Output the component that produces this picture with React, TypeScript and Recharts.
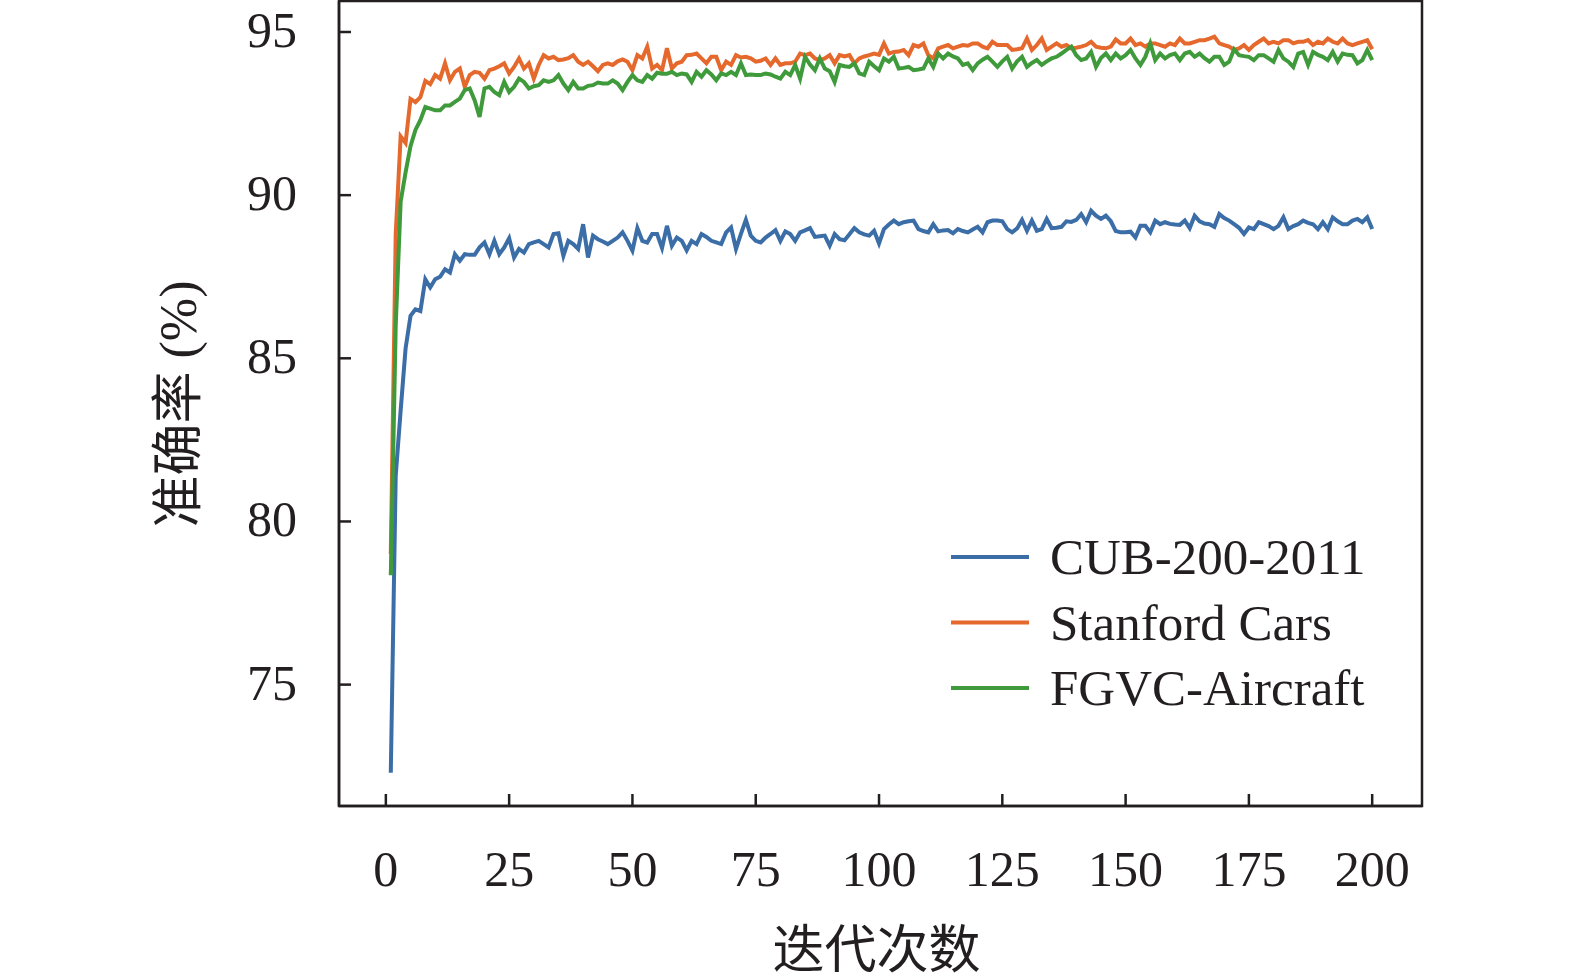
import { LineChart, Line, XAxis, YAxis, Legend, ReferenceArea } from "recharts";

const EPOCHS = Array.from({ length: 200 }, (_, i) => i + 1);

const CUB = [
  72.3, 81.4, 83.4, 85.3, 86.3, 86.5, 86.45, 87.42, 87.17, 87.42,
  87.5, 87.73, 87.63, 88.19, 87.99, 88.19, 88.17, 88.17, 88.4, 88.55,
  88.19, 88.6, 88.19, 88.4, 88.68, 88.09, 88.35, 88.24, 88.5, 88.55,
  88.6, 88.5, 88.4, 88.81, 88.83, 88.14, 88.6, 88.5, 88.35, 89.11,
  88.09, 88.76, 88.65, 88.58, 88.5, 88.6, 88.7, 88.86, 88.6, 88.3,
  88.99, 88.6, 88.55, 88.81, 88.81, 88.38, 89.06, 88.45, 88.7, 88.6,
  88.31, 88.6, 88.5, 88.81, 88.72, 88.6, 88.55, 88.5, 88.86, 89.01,
  88.35, 88.81, 89.24, 88.76, 88.6, 88.55, 88.7, 88.81, 88.93, 88.6,
  88.89, 88.81, 88.6, 88.86, 88.92, 88.99, 88.72, 88.74, 88.76, 88.45,
  88.81, 88.65, 88.62, 88.8, 88.99, 88.86, 88.8, 88.76, 88.91, 88.52,
  88.96, 89.1, 89.22, 89.11, 89.17, 89.2, 89.22, 88.96, 88.9, 88.86,
  89.11, 88.89, 88.92, 88.93, 88.83, 88.96, 88.9, 88.86, 88.95, 89.03,
  88.86, 89.17, 89.22, 89.22, 89.2, 88.96, 88.86, 88.98, 89.24, 88.91,
  89.22, 88.91, 88.96, 89.27, 88.99, 89.0, 89.03, 89.2, 89.18, 89.24,
  89.42, 89.17, 89.52, 89.37, 89.27, 89.37, 89.2, 88.9, 88.86, 88.86,
  88.88, 88.7, 89.06, 89.06, 88.86, 89.22, 89.11, 89.17, 89.12, 89.1,
  89.09, 89.22, 88.99, 89.37, 89.2, 89.13, 89.11, 89.03, 89.42, 89.3,
  89.22, 89.11, 89.0, 88.81, 89.01, 88.96, 89.17, 89.11, 89.05, 88.96,
  89.06, 89.32, 88.96, 89.05, 89.11, 89.22, 89.15, 89.11, 88.96, 89.17,
  88.96, 89.32, 89.2, 89.11, 89.11, 89.22, 89.27, 89.17, 89.32, 88.96,
];

const CARS = [
  79.0, 88.8, 91.8, 91.6, 92.95, 92.85, 93.0, 93.5, 93.4, 93.68,
  93.57, 94.04, 93.52, 93.78, 93.88, 93.32, 93.68, 93.78, 93.75, 93.57,
  93.83, 93.88, 93.95, 94.04, 93.73, 93.93, 94.19, 93.88, 94.04, 93.57,
  93.99, 94.29, 94.19, 94.24, 94.14, 94.16, 94.2, 94.29, 94.09, 93.99,
  94.09, 93.95, 93.8, 93.99, 94.04, 93.99, 94.1, 94.16, 94.09, 93.83,
  94.29, 94.19, 94.55, 93.88, 93.99, 93.83, 94.5, 93.88, 94.04, 94.09,
  94.29, 94.3, 94.34, 94.19, 94.04, 94.24, 94.24, 93.83, 94.09, 93.99,
  94.29, 94.22, 94.24, 94.19, 94.09, 94.12, 94.19, 93.99, 94.19, 93.99,
  94.04, 94.04, 94.09, 94.34, 94.29, 94.34, 94.19, 94.14, 94.19, 94.29,
  94.04, 94.29, 94.25, 94.29, 94.04, 94.19, 94.25, 94.29, 94.34, 94.3,
  94.65, 94.34, 94.39, 94.4, 94.45, 94.29, 94.6, 94.55, 94.65, 94.29,
  94.19, 94.5, 94.55, 94.6, 94.5, 94.55, 94.6, 94.58, 94.65, 94.65,
  94.55, 94.5, 94.7, 94.6, 94.6, 94.6, 94.45, 94.47, 94.5, 94.8,
  94.45, 94.6, 94.8, 94.45, 94.55, 94.65, 94.55, 94.6, 94.5, 94.52,
  94.55, 94.6, 94.7, 94.55, 94.52, 94.5, 94.55, 94.77, 94.65, 94.65,
  94.8, 94.6, 94.65, 94.55, 94.65, 94.65, 94.6, 94.55, 94.65, 94.6,
  94.8, 94.65, 94.65, 94.7, 94.75, 94.75, 94.8, 94.86, 94.65, 94.6,
  94.55, 94.45, 94.5, 94.6, 94.45, 94.6, 94.7, 94.8, 94.65, 94.7,
  94.65, 94.75, 94.75, 94.65, 94.7, 94.7, 94.75, 94.6, 94.7, 94.65,
  94.8, 94.7, 94.65, 94.8, 94.65, 94.6, 94.65, 94.7, 94.75, 94.47,
];

const AIRCRAFT = [
  78.35, 86.0, 89.8, 90.7, 91.5, 92.0, 92.3, 92.7, 92.65, 92.6,
  92.6, 92.75, 92.75, 92.86, 92.96, 93.22, 93.27, 92.91, 92.4, 93.27,
  93.32, 93.16, 93.06, 93.47, 93.16, 93.32, 93.57, 93.47, 93.27, 93.34,
  93.37, 93.52, 93.47, 93.52, 93.68, 93.42, 93.22, 93.47, 93.27, 93.27,
  93.35, 93.37, 93.45, 93.42, 93.42, 93.52, 93.42, 93.22, 93.47, 93.68,
  93.52, 93.47, 93.68, 93.57, 93.75, 93.72, 93.72, 93.78, 93.68, 93.73,
  93.7, 93.47, 93.78, 93.63, 93.83, 93.7, 93.52, 93.73, 93.68, 93.78,
  93.68, 94.04, 93.68, 93.7, 93.68, 93.68, 93.73, 93.7, 93.63, 93.57,
  93.78, 93.68, 93.99, 93.57, 94.24, 94.0, 93.83, 94.19, 93.88, 93.8,
  93.47, 93.99, 93.95, 93.93, 94.04, 93.73, 93.68, 94.09, 93.95, 93.83,
  94.19, 94.09, 94.24, 93.88, 93.9, 93.93, 93.83, 93.85, 93.88, 94.19,
  93.93, 94.34, 94.19, 94.34, 94.25, 94.19, 93.99, 94.04, 93.83, 94.04,
  94.15, 94.24, 94.09, 93.93, 94.1, 94.24, 93.88, 94.1, 94.24, 93.93,
  94.05, 94.14, 93.99, 94.1, 94.19, 94.24, 94.34, 94.45, 94.55, 94.29,
  94.14, 94.19, 94.39, 93.93, 94.2, 94.34, 94.14, 94.34, 94.19, 94.29,
  94.45, 94.19, 93.99, 94.24, 94.65, 94.14, 94.34, 94.19, 94.29, 94.34,
  94.14, 94.34, 94.39, 94.24, 94.34, 94.2, 94.09, 94.24, 94.24, 93.99,
  94.09, 94.47, 94.29, 94.26, 94.24, 94.14, 94.29, 94.29, 94.19, 94.09,
  94.45, 94.19, 94.09, 93.93, 94.34, 94.39, 93.99, 94.39, 94.3, 94.24,
  94.14, 94.39, 94.09, 94.34, 94.3, 94.29, 94.04, 94.14, 94.45, 94.14,
];

const SERIES_NAMES = ["CUB-200-2011", "Stanford Cars", "FGVC-Aircraft"];
const X_TICKS = [0, 25, 50, 75, 100, 125, 150, 175, 200];
const Y_TICKS = [75, 80, 85, 90, 95];
const X_DOMAIN = [-9.5, 210.1];
const Y_DOMAIN = [71.28, 95.95];

const data = EPOCHS.map((epoch, i) => ({
  epoch,
  cub: CUB[i],
  cars: CARS[i],
  aircraft: AIRCRAFT[i],
}));

const INK = "#231f20";
const SERIF = "'Liberation Serif', 'Times New Roman', serif";
const CJK = "'Liberation Serif', 'Noto Sans CJK SC', serif";

function YTick({ x, y, payload }: any) {
  return (
    <g>
      <line x1={x} x2={x + 12} y1={y} y2={y} stroke={INK} strokeWidth={2.5} />
      <text x={x - 42} y={y} dy={15} textAnchor="end" fontFamily={SERIF} fontSize={50} fill={INK}>
        {payload.value}
      </text>
    </g>
  );
}

function XTick({ x, y, payload }: any) {
  return (
    <g>
      <line x1={x} x2={x} y1={y} y2={y - 12} stroke={INK} strokeWidth={2.5} />
      <text x={x} y={y + 80} textAnchor="middle" fontFamily={SERIF} fontSize={50} fill={INK}>
        {payload.value}
      </text>
    </g>
  );
}

function renderLegend({ payload }: any) {
  const items = [...(payload ?? [])].sort(
    (a: any, b: any) => SERIES_NAMES.indexOf(a.value) - SERIES_NAMES.indexOf(b.value)
  );
  return (
    <svg width={460} height={210}>
      {items.map((entry: any, i: number) => {
        const cy = 37 + i * 65.5;
        return (
          <g key={entry.value}>
            <line x1={21} x2={99} y1={cy} y2={cy} stroke={entry.color} strokeWidth={4} />
            <text x={120} y={cy + 17} fontFamily={SERIF} fontSize={51} fill={INK}>
              {entry.value}
            </text>
          </g>
        );
      })}
    </svg>
  );
}

export default function App() {
  return (
    <div style={{ position: "absolute", left: 0, top: 0, width: 1575, height: 977, background: "#fff" }}>
      <LineChart width={1575} height={977} data={data} margin={{ top: 1, right: 153, bottom: 0, left: 0 }}>
        <XAxis
          dataKey="epoch"
          type="number"
          domain={X_DOMAIN}
          ticks={X_TICKS}
          allowDataOverflow
          height={171}
          tickSize={0}
          tickMargin={0}
          tickLine={false}
          tick={<XTick />}
          axisLine={{ stroke: INK, strokeWidth: 2.5 }}
          label={({ viewBox }: any) => (
            <text
              x={viewBox.x + viewBox.width / 2 - 4}
              y={950}
              textAnchor="middle"
              dominantBaseline="central"
              fontFamily={CJK}
              fontSize={52}
              fill={INK}
            >
              迭代次数
            </text>
          )}
        />
        <YAxis
          type="number"
          domain={Y_DOMAIN}
          ticks={Y_TICKS}
          allowDataOverflow
          width={339}
          tickSize={0}
          tickMargin={0}
          tickLine={false}
          tick={<YTick />}
          axisLine={{ stroke: INK, strokeWidth: 2.5 }}
          label={() => (
            <text
              x={178}
              y={404}
              transform="rotate(-90 178 404)"
              textAnchor="middle"
              dominantBaseline="central"
              fontFamily={CJK}
              fontSize={52}
              fill={INK}
            >
              准确率 (%)
            </text>
          )}
        />
        <ReferenceArea
          x1={X_DOMAIN[0]}
          x2={X_DOMAIN[1]}
          y1={Y_DOMAIN[0]}
          y2={Y_DOMAIN[1]}
          fill="none"
          stroke={INK}
          strokeWidth={2.5}
          ifOverflow="visible"
        />
        <Line dataKey="cub" name={SERIES_NAMES[0]} stroke="#3b6da7" strokeWidth={4} dot={false} isAnimationActive={false} />
        <Line dataKey="cars" name={SERIES_NAMES[1]} stroke="#e5692c" strokeWidth={4} dot={false} isAnimationActive={false} />
        <Line dataKey="aircraft" name={SERIES_NAMES[2]} stroke="#3f9a3b" strokeWidth={4} dot={false} isAnimationActive={false} />
        <Legend
          layout="vertical"
          align="center"
          verticalAlign="middle"
          content={renderLegend}
          wrapperStyle={{ position: "absolute", left: 930, top: 520, width: 460, height: 210 }}
        />
      </LineChart>
    </div>
  );
}
